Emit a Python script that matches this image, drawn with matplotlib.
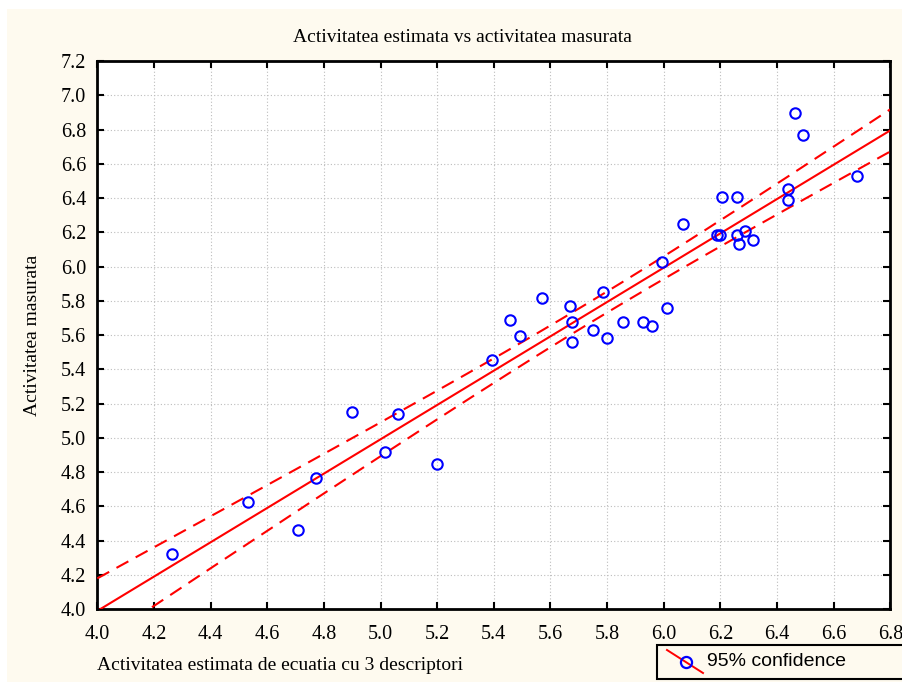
import numpy as np
import matplotlib
matplotlib.use("Agg")
import matplotlib.pyplot as plt
from matplotlib.lines import Line2D
from matplotlib.patches import Rectangle

# estimated vs measured activity
estimata = [4.264, 4.532, 4.708, 4.772, 4.899, 5.017, 5.061, 5.201, 5.393, 5.456,
            5.492, 5.569, 5.668, 5.675, 5.675, 5.751, 5.787, 5.801, 5.857, 5.928,
            5.958, 5.994, 6.013, 6.069, 6.187, 6.199, 6.205, 6.260, 6.258, 6.267,
            6.288, 6.316, 6.438, 6.438, 6.465, 6.493, 6.683]
masurata = [4.321, 4.625, 4.461, 4.765, 5.152, 4.919, 5.140, 4.848, 5.456, 5.689,
            5.594, 5.816, 5.769, 5.678, 5.559, 5.631, 5.853, 5.584, 5.678, 5.678,
            5.654, 6.028, 5.759, 6.250, 6.182, 6.182, 6.404, 6.404, 6.182, 6.133,
            6.205, 6.156, 6.453, 6.391, 6.894, 6.766, 6.530]
xticks = [4.0, 4.2, 4.4, 4.6, 4.8, 5.0, 5.2, 5.4, 5.6, 5.8, 6.0, 6.2, 6.4, 6.6, 6.8]
yticks = [4.0, 4.2, 4.4, 4.6, 4.8, 5.0, 5.2, 5.4, 5.6, 5.8, 6.0, 6.2, 6.4, 6.6, 6.8, 7.0, 7.2]
t_975 = 2.030  # Student t, 35 dof

x = np.array(estimata)
y = np.array(masurata)
n = len(x)
b, a = np.polyfit(x, y, 1)
resid = y - (a + b * x)
s = np.sqrt(np.sum(resid ** 2) / (n - 2))
xs = np.linspace(4.0, 6.8, 200)
fit = a + b * xs
half = t_975 * s * np.sqrt(1.0 / n + (xs - x.mean()) ** 2 / np.sum((x - x.mean()) ** 2))

cream = "#fefaef"
fig = plt.figure(figsize=(9.02, 6.82), dpi=100)
fig.patch.set_facecolor("white")
fig.add_artist(Rectangle((7 / 902, 0), 1, 1 - 9 / 682, transform=fig.transFigure,
                         facecolor=cream, edgecolor="none", zorder=-10))

ax = fig.add_axes([97.3 / 902, 1 - 609.3 / 682, 793 / 902, 548.3 / 682])
ax.set_facecolor("white")

serif = "Liberation Serif"
ax.plot(xs, fit, color="red", lw=1.5, zorder=3)
ax.plot(xs, fit + half, color="red", lw=1.5, ls=(0, (6.5, 4)), zorder=3)
ax.plot(xs, fit - half, color="red", lw=1.5, ls=(0, (6.5, 4)), zorder=3)
ax.plot(x, y, "o", mfc="none", mec="blue", mew=1.5, ms=7.5, zorder=4)

ax.set_xlim(4.0, 6.8)
ax.set_ylim(4.0, 7.2)
ax.set_xticks(xticks)
ax.set_yticks(yticks)
ax.set_xticklabels([f"{v:.1f}" for v in xticks], family=serif, fontsize=14.5)
ax.set_yticklabels([f"{v:.1f}" for v in yticks], family=serif, fontsize=14.5)
ax.tick_params(direction="in", length=5, width=1.5, top=True, right=True)
ax.tick_params(axis="x", pad=11)
ax.tick_params(axis="y", pad=8)
ax.grid(True, color="#bdbdbd", lw=0.8, ls=(0, (1, 2)))
for sp in ax.spines.values():
    sp.set_linewidth(2)

fig.text(462 / 902, 1 - 37 / 682, "Activitatea estimata vs activitatea masurata",
         family=serif, fontsize=14, ha="center", va="center")
fig.text(97 / 902, 1 - 665 / 682, "Activitatea estimata de ecuatia cu 3 descriptori",
         family=serif, fontsize=14, ha="left", va="center")
fig.text(33 / 902, 1 - 335 / 682, "Activitatea masurata", family=serif, fontsize=14,
         ha="center", va="center", rotation=90)

# legend box
fig.add_artist(Rectangle((657 / 902, 1 - 679 / 682), 250 / 902, 34 / 682,
                         transform=fig.transFigure, facecolor=cream,
                         edgecolor="black", lw=1.5))
fig.add_artist(Line2D([667 / 902, 703 / 902], [1 - 650 / 682, 1 - 673 / 682],
                      transform=fig.transFigure, color="red", lw=1.4))
fig.add_artist(Line2D([686 / 902], [1 - 662 / 682], transform=fig.transFigure,
                      marker="o", mfc="none", mec="blue", mew=1.6, ms=8))
fig.text(707 / 902, 1 - 662 / 682, "95% confidence", family="Liberation Sans",
         fontsize=14, ha="left", va="center")

fig.savefig("out.png", dpi=100, facecolor=fig.get_facecolor())
